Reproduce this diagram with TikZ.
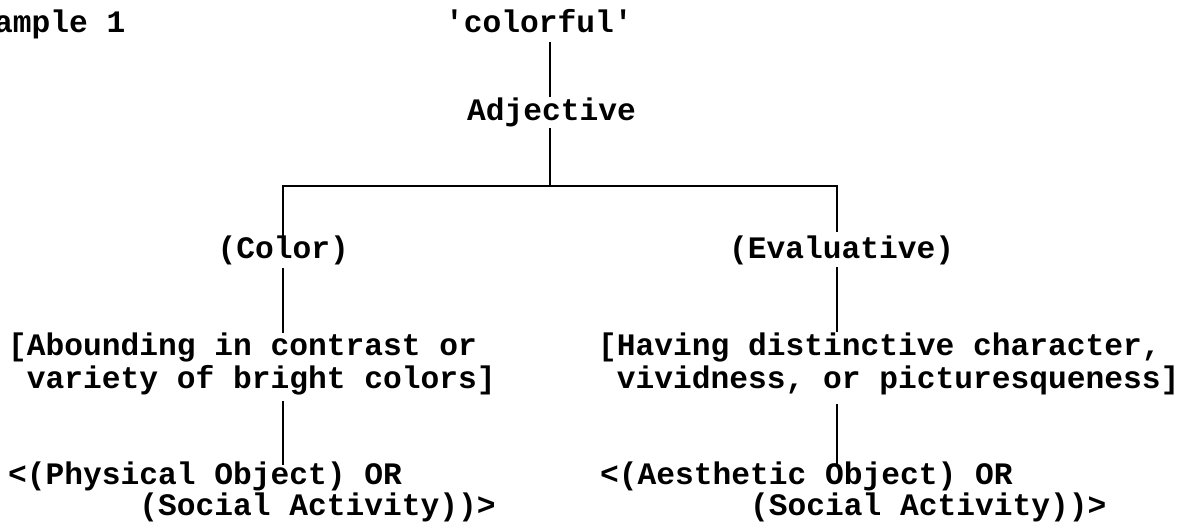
\documentclass[tikz,border=0pt]{standalone}
\usepackage{fontspec}
\setmonofont{Liberation Mono}
\begin{document}
\begin{tikzpicture}[x=1pt,y=-1pt,
  lbl/.style={inner sep=0pt, anchor=base west,
    font=\ttfamily\bfseries\fontsize{31.25}{33}\selectfont},
  link/.style={line width=1.6pt, line cap=butt}]
\useasboundingbox[fill=white] (0,0) rectangle (1194,523);

% labels (monospaced, one cell = 18.75pt)
\node[lbl] (title)    at (-6,32)     {ample 1};
\node[lbl] (word)     at (445,32)    {'colorful'};
\node[lbl] (adj)      at (467,120)   {Adjective};
\node[lbl] (color)    at (217.5,258) {(Color)};
\node[lbl] (eval)     at (729,258)   {(Evaluative)};
\node[lbl] (aboundA)  at (8,355)     {[Abounding in contrast or};
\node[lbl] (aboundB)  at (26.75,388) {variety of bright colors]};
\node[lbl] (havingA)  at (598,355)   {[Having distinctive character,};
\node[lbl] (havingB)  at (616.75,388){vividness, or picturesqueness]};
\node[lbl] (physA)    at (8,484)     {<(Physical Object) OR};
\node[lbl] (physB)    at (139.25,515){(Social Activity))>};
\node[lbl] (aesA)     at (600,484)   {<(Aesthetic Object) OR};
\node[lbl] (aesB)     at (750,515)   {(Social Activity))>};

% connector end points
\coordinate (wordB)  at (550,42);
\coordinate (adjT)   at (550,97);
\coordinate (adjB)   at (550,128);
\coordinate (forkM)  at (550,186);
\coordinate (forkL)  at (283,186);
\coordinate (forkR)  at (837,186);
\coordinate (colorT) at (283,236);
\coordinate (colorB) at (283,268);
\coordinate (evalT)  at (837,232);
\coordinate (evalB)  at (837,267);
\coordinate (abT)    at (283,333);
\coordinate (abB)    at (283,401);
\coordinate (hvT)    at (837,332);
\coordinate (hvB)    at (837,404);
\coordinate (phT)    at (283,465);
\coordinate (aeT)    at (837,467);

% tree
\draw[link] (wordB) -- (adjT);
\draw[link] (adjB) -- (forkM);
\draw[link] (colorT) -- (forkL) -- (forkR) -- (evalT);
\draw[link] (colorB) -- (abT);
\draw[link] (evalB) -- (hvT);
\draw[link] (abB) -- (phT);
\draw[link] (hvB) -- (aeT);
\end{tikzpicture}
\end{document}
